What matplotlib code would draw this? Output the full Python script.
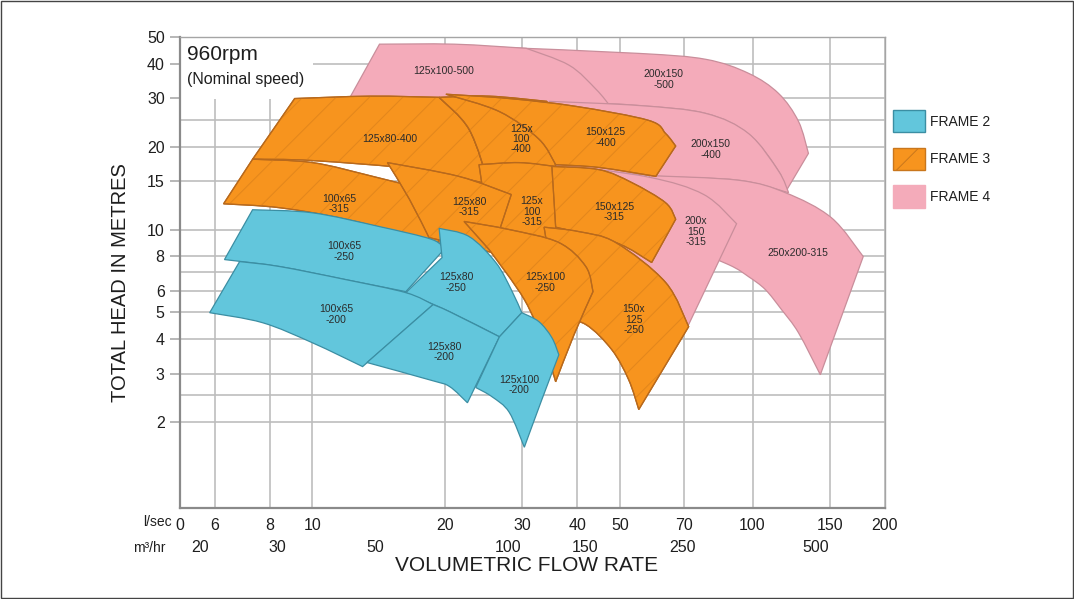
import numpy as np
import matplotlib
matplotlib.use("Agg")
import matplotlib.pyplot as plt
from matplotlib.path import Path
from matplotlib.patches import PathPatch, Patch, Rectangle
from matplotlib.ticker import NullLocator

plt.rcParams["font.family"] = ["Liberation Sans", "DejaVu Sans"]
plt.rcParams["hatch.linewidth"] = 0.7

# colores por bastidor
frame_colors = {2: "#62c6dc", 3: "#f7941e", 4: "#f4abba"}
frame_edges = {2: "#3b8ea3", 3: "#b8691c", 4: "#c98e9b"}
hatch_color = "#e2861c"

# ejes
ls_ticks = [6, 8, 10, 20, 30, 40, 50, 70, 100, 150, 200]
m3h_ticks = [20, 30, 50, 100, 150, 250, 500]
head_ticks = [2, 3, 4, 5, 6, 8, 10, 15, 20, 30, 40, 50]
head_minor = [2.5, 7, 25]

# zonas de cada bomba: lista de bordes, cada borde arranca en una esquina
# puntos (caudal l/s, altura m)
r_200x150_500 = [[(26.5, 45.9), (55.2, 43.6), (78.3, 41.5), (98.0, 36.9), (114.6, 31.2), (127.2, 24.7)],
                 [(134.0, 18.9)],
                 [(118.9, 13.7), (114.6, 16.3), (98.0, 22.2), (78.3, 26.4), (55.2, 28.2), (36.3, 29.2)],
                 [(26.5, 29.7)]]
r_125x100_500 = [[(14.2, 47.1), (21.0, 47.1)],
                 [(30.6, 45.5), (38.3, 39.5), (44.1, 32.3)],
                 [(47.7, 27.8), (23.9, 29.7)],
                 [(12.1, 29.7)]]
r_200x150_400 = [[(34.5, 29.2), (55.2, 28.2), (78.3, 26.4), (98.0, 22.3), (114.6, 16.3)],
                 [(120.8, 13.6), (93.0, 15.1), (58.1, 15.7)],
                 [(34.5, 17.2)]]
r_250x200_315 = [[(58.1, 15.7), (93.0, 15.1), (118.9, 13.6), (151.0, 11.05)],
                 [(178.5, 7.98)],
                 [(142.6, 2.97), (127.2, 4.22), (116.4, 5.12), (107.0, 6.05), (98.0, 6.74), (88.2, 7.46)],
                 [(68.0, 8.82)]]
r_200x150_315 = [[(36.3, 17.2), (58.1, 15.5), (77.5, 13.4)],
                 [(92.0, 10.5)],
                 [(71.6, 4.52), (49.7, 5.57)],
                 [(38.3, 6.05)]]

r_125x80_400 = [[(9.11, 29.9), (13.5, 30.5)],
                [(19.4, 30.2), (22.7, 23.1)],
                [(25.2, 14.6), (17.5, 16.5), (10.0, 17.8)],
                [(7.31, 18.0)]]
r_125x100_400 = [[(19.4, 30.2), (25.2, 30.5)],
                 [(34.1, 29.2)],
                 [(35.7, 16.9), (29.5, 15.9)],
                 [(25.2, 14.6), (22.7, 23.1)]]
r_150x125_400 = [[(20.1, 31.0), (28.0, 29.9), (39.7, 28.0), (58.1, 24.9), (63.5, 22.3)],
                 [(66.9, 20.1)],
                 [(60.3, 15.6), (44.8, 16.8)],
                 [(35.7, 17.2), (32.7, 21.3), (26.6, 26.8)]]
r_125x100_315 = [[(23.9, 17.2), (29.5, 17.5)],
                 [(35.6, 16.95)],
                 [(37.3, 9.59), (30.0, 8.7)],
                 [(25.6, 8.25)]]
r_150x125_315 = [[(35.0, 16.95), (44.8, 16.5), (53.2, 14.8), (63.5, 12.5)],
                 [(66.9, 10.9)],
                 [(59.0, 7.59), (48.9, 8.97)],
                 [(35.7, 10.2)]]
r_100x65_315 = [[(7.31, 18.0), (10.0, 17.5), (13.7, 15.6)],
                [(18.9, 13.7)],
                [(19.4, 8.97), (11.9, 10.9), (8.42, 12.0)],
                [(6.28, 12.4)]]
r_125x80_315 = [[(14.8, 17.5), (21.5, 15.6)],
                [(28.3, 13.4)],
                [(25.6, 8.25), (21.5, 8.82)],
                [(18.4, 9.35), (16.6, 12.9)]]
r_150x125_250 = [[(33.6, 10.2), (40.3, 9.83), (48.9, 8.97), (63.5, 6.42)],
                 [(71.6, 4.44)],
                 [(55.15, 2.22), (52.3, 2.85), (47.9, 3.66), (41.8, 4.52)],
                 [(36.3, 4.79)]]
r_125x100_250 = [[(22.1, 10.7), (28.0, 10.0), (36.3, 8.97), (41.8, 7.34)],
                 [(43.4, 5.95), (39.3, 4.15)],
                 [(35.7, 2.80), (33.6, 3.82), (30.3, 5.57)],
                 [(25.2, 8.46)]]

r_100x65_250 = [[(7.31, 11.8), (10.0, 11.5), (14.2, 10.25), (18.7, 9.20)],
                [(19.9, 8.46)],
                [(16.3, 5.95), (11.9, 6.58), (8.42, 7.34)],
                [(6.31, 7.78)]]
r_125x80_250 = [[(19.4, 10.1), (22.7, 9.43), (26.1, 7.59), (28.3, 6.05)],
                [(29.9, 4.99)],
                [(26.6, 4.08), (20.5, 5.03)],
                [(16.3, 5.90)],
                [(19.7, 7.91)]]
r_100x65_200 = [[(6.83, 7.65), (8.42, 7.34), (11.9, 6.58), (16.3, 5.90)],
                [(18.8, 5.34)],
                [(13.0, 3.18), (10.0, 3.88), (7.70, 4.59)],
                [(5.84, 4.99)]]
r_125x80_200 = [[(18.8, 5.34), (20.5, 5.03)],
                [(26.6, 4.08)],
                [(22.5, 2.35), (20.5, 2.69), (18.7, 2.83)],
                [(13.3, 3.29)]]
r_125x100_200 = [[(26.6, 4.08)],
                 [(29.9, 4.99), (32.7, 4.63), (35.0, 4.05)],
                 [(36.3, 3.51), (33.2, 2.41)],
                 [(30.3, 1.62), (28.0, 2.17), (25.6, 2.47)],
                 [(23.5, 2.67)]]

# (texto, bastidor, zona, posicion de la etiqueta) en orden de dibujo
pumps = [
    ("200x150\n-500", 4, r_200x150_500, (62.8, 35.1)),
    ("125x100-500", 4, r_125x100_500, (19.9, 37.6)),
    ("200x150\n-400", 4, r_200x150_400, (80.3, 19.5)),
    ("250x200-315", 4, r_250x200_315, (127.0, 8.25)),
    ("200x\n150\n-315", 4, r_200x150_315, (74.3, 9.83)),
    ("125x80-400", 3, r_125x80_400, (15.0, 21.3)),
    ("125x\n100\n-400", 3, r_125x100_400, (29.8, 21.3)),
    ("150x125\n-400", 3, r_150x125_400, (46.4, 21.6)),
    ("125x\n100\n-315", 3, r_125x100_315, (31.5, 11.6)),
    ("150x125\n-315", 3, r_150x125_315, (48.4, 11.6)),
    ("100x65\n-315", 3, r_100x65_315, (11.5, 12.4)),
    ("125x80\n-315", 3, r_125x80_315, (22.7, 12.1)),
    ("150x\n125\n-250", 3, r_150x125_250, (53.7, 4.71)),
    ("125x100\n-250", 3, r_125x100_250, (33.8, 6.42)),
    ("100x65\n-250", 2, r_100x65_250, (11.8, 8.32)),
    ("125x80\n-250", 2, r_125x80_250, (21.2, 6.42)),
    ("100x65\n-200", 2, r_100x65_200, (11.3, 4.91)),
    ("125x80\n-200", 2, r_125x80_200, (19.9, 3.60)),
    ("125x100\n-200", 2, r_125x100_200, (29.5, 2.73)),
]


def region_path(edges):
    # bordes suaves (catmull-rom -> bezier) en espacio logaritmico
    verts, codes = [], []
    n = len(edges)
    for k, edge in enumerate(edges):
        pts = np.log10(np.array(list(edge) + [edges[(k + 1) % n][0]], dtype=float))
        if k == 0:
            verts.append(pts[0])
            codes.append(Path.MOVETO)
        if len(pts) == 2:
            verts.append(pts[1])
            codes.append(Path.LINETO)
            continue
        for i in range(len(pts) - 1):
            p0 = pts[max(i - 1, 0)]
            p1, p2 = pts[i], pts[i + 1]
            p3 = pts[min(i + 2, len(pts) - 1)]
            verts += [p1 + (p2 - p0) / 6, p2 - (p3 - p1) / 6, p2]
            codes += [Path.CURVE4] * 3
    verts.append(verts[0])
    codes.append(Path.CLOSEPOLY)
    return Path(10 ** np.array(verts), codes)


fig = plt.figure(figsize=(10.74, 5.99), dpi=100)
ax = fig.add_axes([0.1676, 0.1519, 0.6564, 0.7863])
ax.set_xscale("log")
ax.set_yscale("log")
ax.set_xlim(5, 200)
ax.set_ylim(0.975, 50)

z = 2
for name, frame, edges, (lx, ly) in pumps:
    path = region_path(edges)
    ax.add_patch(PathPatch(path, facecolor=frame_colors[frame], edgecolor=frame_edges[frame],
                           lw=0.9, zorder=z))
    if frame == 3:
        ax.add_patch(PathPatch(path, facecolor="none", edgecolor=hatch_color, lw=0,
                               hatch="/", zorder=z + 0.1))
        ax.add_patch(PathPatch(path, facecolor="none", edgecolor=frame_edges[frame],
                               lw=0.9, zorder=z + 0.2))
    z += 1

for name, frame, edges, (lx, ly) in pumps:
    ax.text(lx, ly, name, ha="center", va="center", fontsize=7.5, color="#2b2b2b",
            linespacing=1.05, zorder=50)

# ejes y rejilla
ax.set_xticks([5] + ls_ticks)
ax.set_xticklabels(["0"] + [str(v) for v in ls_ticks])
ax.xaxis.set_minor_locator(NullLocator())
ax.set_yticks(head_ticks)
ax.set_yticklabels([str(v) for v in head_ticks])
ax.set_yticks(head_minor, minor=True)
ax.tick_params(axis="x", length=0, pad=7, labelsize=11.5, labelcolor="#1e1e1e")
ax.tick_params(axis="y", which="major", length=7, width=1.2, color="#aaaaaa", pad=4,
               labelsize=11.5, labelcolor="#1e1e1e")
ax.tick_params(axis="y", which="minor", length=0)
ax.set_axisbelow(True)
ax.grid(True, which="both", color="#bdbdbd", lw=1.2)
for side in ["left", "bottom"]:
    ax.spines[side].set_color("#8a8a8a")
    ax.spines[side].set_linewidth(1.6)
for side in ["top", "right"]:
    ax.spines[side].set_color("#a5a5a5")
    ax.spines[side].set_linewidth(1.0)

sec = ax.secondary_xaxis(-0.06, functions=(lambda q: q * 3.6, lambda m: m / 3.6))
sec.set_xticks(m3h_ticks)
sec.set_xticklabels([str(v) for v in m3h_ticks])
sec.xaxis.set_minor_locator(NullLocator())
sec.tick_params(length=0, pad=3, labelsize=11.5, labelcolor="#1e1e1e")
sec.spines["bottom"].set_visible(False)

ax.text(-0.012, -0.03, "l/sec", transform=ax.transAxes, ha="right", va="center",
        fontsize=10, color="#1e1e1e")
ax.text(-0.021, -0.085, "m\u00b3/hr", transform=ax.transAxes, ha="right", va="center",
        fontsize=10, color="#1e1e1e")
ax.text(0.492, -0.123, "VOLUMETRIC FLOW RATE", transform=ax.transAxes, ha="center",
        va="center", fontsize=15, color="#1e1e1e")
ax.text(-0.085, 0.479, "TOTAL HEAD IN METRES", transform=ax.transAxes, ha="center",
        va="center", rotation=90, fontsize=14.5, color="#1e1e1e")

# recuadro de velocidad
ax.add_patch(Rectangle((0, 0.868), 0.189, 0.132, transform=ax.transAxes,
                       facecolor="white", edgecolor="none", zorder=1))
ax.text(0.01, 0.962, "960rpm", transform=ax.transAxes, ha="left", va="center",
        fontsize=15, color="#1e1e1e", zorder=3)
ax.text(0.01, 0.909, "(Nominal speed)", transform=ax.transAxes, ha="left", va="center",
        fontsize=11.5, color="#1e1e1e", zorder=3)

handles = [
    Patch(facecolor=frame_colors[2], edgecolor=frame_edges[2], label="FRAME 2"),
    Patch(facecolor=frame_colors[3], edgecolor="#c9761c", hatch="/", label="FRAME 3"),
    Patch(facecolor=frame_colors[4], edgecolor=frame_colors[4], label="FRAME 4"),
]
ax.legend(handles=handles, loc="upper left", bbox_to_anchor=(1.011, 0.845), frameon=False,
          fontsize=10, handlelength=2.3, handleheight=2.1, labelspacing=1.1,
          handletextpad=0.4, borderaxespad=0, borderpad=0, labelcolor="#1e1e1e")

fig.add_artist(Rectangle((0.0005, 0.001), 0.999, 0.998, transform=fig.transFigure,
                         fill=False, edgecolor="#444444", lw=1))

fig.savefig("out.png", dpi=100)
